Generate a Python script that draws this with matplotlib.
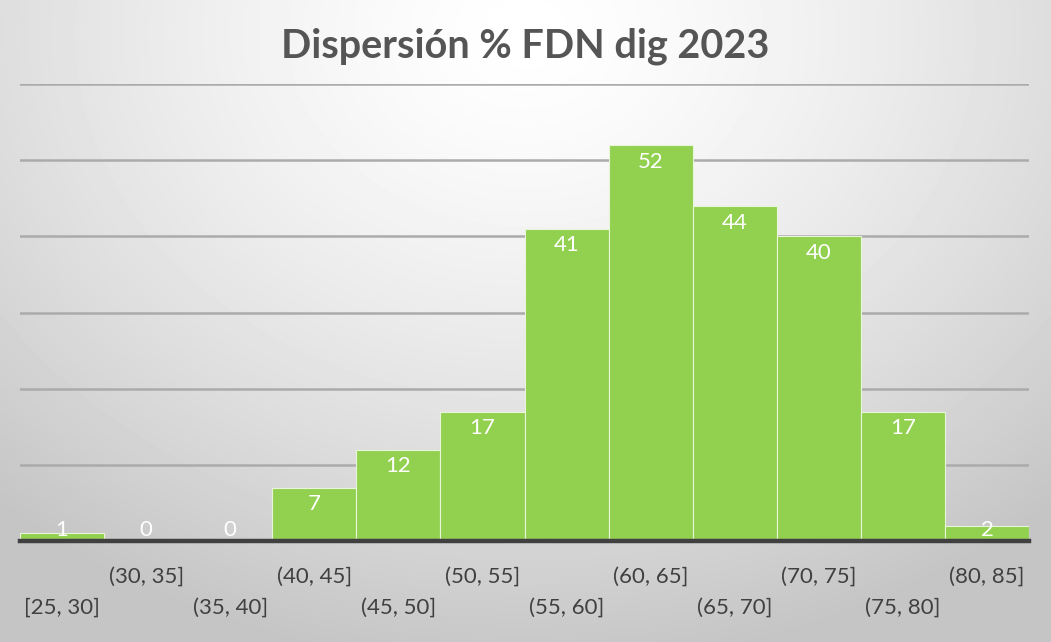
import numpy as np
import matplotlib
matplotlib.use("Agg")
from matplotlib import pyplot as plt

# histogram of % FDN dig, 2023
BINS = ['[25, 30]', '(30, 35]', '(35, 40]', '(40, 45]', '(45, 50]', '(50, 55]',
        '(55, 60]', '(60, 65]', '(65, 70]', '(70, 75]', '(75, 80]', '(80, 85]']
COUNTS = [1, 0, 0, 7, 12, 17, 41, 52, 44, 40, 17, 2]

TITLE = 'Dispersión % FDN dig 2023'
FONT = ['Lato', 'DejaVu Sans']
GREEN = '#92D050'
TEXT = '#404040'

W, H, DPI = 1051, 642, 100

plt.rcParams['font.family'] = FONT

fig = plt.figure(figsize=(W / DPI, H / DPI), dpi=DPI)

# background gradient: light in the upper middle, grey towards the edges
bg = fig.add_axes([0, 0, 1, 1], zorder=-10)
yy, xx = np.mgrid[0:1:200j, 0:1:300j]
dist = np.sqrt(((xx - 0.5) / 0.75) ** 2 + ((yy - 0.05) / 1.0) ** 2)
shade = 1.0 - 0.23 * np.clip(dist, 0, 1) ** 1.4
bg.imshow(shade, cmap='gray', vmin=0, vmax=1, aspect='auto',
          extent=[0, 1, 1, 0], interpolation='bilinear')
bg.axis('off')

ax = fig.add_axes([20 / W, 1 - 541 / H, (1029 - 20) / W, (541 - 84) / H])
ax.patch.set_alpha(0)

x = np.arange(len(BINS))
ax.bar(x, COUNTS, width=1.0, color=GREEN, edgecolor='#e8f5d8', linewidth=0.8,
       zorder=3)

ax.set_xlim(-0.5, len(BINS) - 0.5)
ax.set_ylim(0, 60)
ax.set_yticks(np.arange(10, 61, 10))
ax.yaxis.grid(True, color='#ababab', linewidth=1.8, zorder=0)
ax.set_axisbelow(True)
ax.tick_params(axis='y', left=False, labelleft=False)
ax.tick_params(axis='x', bottom=False, labelbottom=False)
for side in ['top', 'right', 'left']:
    ax.spines[side].set_visible(False)
ax.spines['bottom'].set_color('#404040')
ax.spines['bottom'].set_linewidth(3.2)
ax.spines['bottom'].set_zorder(5)

# value labels, inside the bar end
for xi, v in zip(x, COUNTS):
    ypos = max(v - 2.2, 1.45)
    ax.text(xi, ypos, str(v), ha='center', va='center', color='white',
            fontsize=16, zorder=6)

# category labels staggered on two rows
for xi, lab in zip(x, BINS):
    row_y = -4.7 if xi % 2 == 1 else -8.8
    ax.text(xi, row_y, lab, ha='center', va='center', color=TEXT,
            fontsize=16, clip_on=False)

fig.text(0.5, 1 - 46 / H, TITLE, ha='center', va='center', color='#555555',
         fontsize=28.5, fontweight='bold')

fig.savefig('out.png', dpi=DPI)
